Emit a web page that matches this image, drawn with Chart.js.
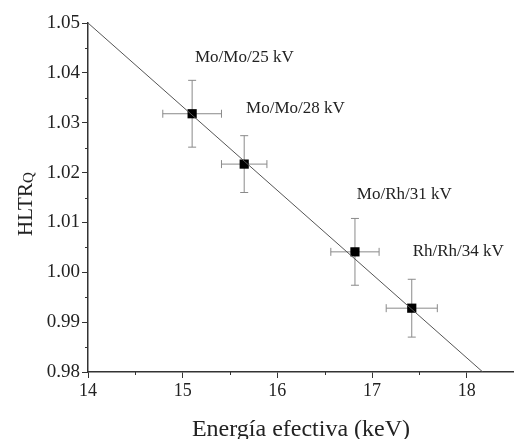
<!DOCTYPE html>
<html>
<head>
<meta charset="utf-8">
<script src="https://cdn.jsdelivr.net/npm/chart.js@4/dist/chart.umd.min.js"></script>
<style>
  html, body { margin: 0; padding: 0; background: #fff; }
  canvas { display: block; }
</style>
</head>
<body>
<canvas id="chart" width="514" height="439"></canvas>
<script>
// measured points
const energy = [15.10, 15.65, 16.82, 17.42];
const hltr = [1.0318, 1.0217, 1.0041, 0.9928];
const energyErr = [0.31, 0.24, 0.255, 0.27];
const hltrErr = [0.0067, 0.0057, 0.0067, 0.0058];
const labels = ['Mo/Mo/25 kV', 'Mo/Mo/28 kV', 'Mo/Rh/31 kV', 'Rh/Rh/34 kV'];
// where each label sits (data units, left edge / middle)
const labelX = [15.13, 15.67, 16.84, 17.43];
const labelY = [1.0430, 1.0328, 1.0155, 1.0041];

// linear fit, drawn between its two ends
const fitX = [14, 18.17];
const fitY = [1.05, 0.98];

const xTicks = [14, 15, 16, 17, 18];
const xMinor = [14.5, 15.5, 16.5, 17.5];
const yTicks = [0.98, 0.99, 1.00, 1.01, 1.02, 1.03, 1.04, 1.05];
const yMinor = [0.985, 0.995, 1.005, 1.015, 1.025, 1.035, 1.045];

const FONT = "'Liberation Serif', 'Times New Roman', serif";
const AXIS = '#333';

const extras = {
    id: 'extras',
    beforeDatasetsDraw(chart) {
        const ctx = chart.ctx;
        const xs = chart.scales.x, ys = chart.scales.y;
        const cap = 4;
        ctx.save();
        ctx.strokeStyle = '#8a8a8a';
        ctx.lineWidth = 1;
        energy.forEach((e, i) => {
            const px = xs.getPixelForValue(e);
            const py = ys.getPixelForValue(hltr[i]);
            const x0 = xs.getPixelForValue(e - energyErr[i]);
            const x1 = xs.getPixelForValue(e + energyErr[i]);
            const y0 = ys.getPixelForValue(hltr[i] + hltrErr[i]);
            const y1 = ys.getPixelForValue(hltr[i] - hltrErr[i]);
            ctx.beginPath();
            ctx.moveTo(x0, py); ctx.lineTo(x1, py);
            ctx.moveTo(x0, py - cap); ctx.lineTo(x0, py + cap);
            ctx.moveTo(x1, py - cap); ctx.lineTo(x1, py + cap);
            ctx.moveTo(px, y0); ctx.lineTo(px, y1);
            ctx.moveTo(px - cap, y0); ctx.lineTo(px + cap, y0);
            ctx.moveTo(px - cap, y1); ctx.lineTo(px + cap, y1);
            ctx.stroke();
        });
        ctx.restore();
    },
    afterDraw(chart) {
        const ctx = chart.ctx;
        const xs = chart.scales.x, ys = chart.scales.y;
        const area = chart.chartArea;
        ctx.save();

        // minor ticks
        ctx.strokeStyle = AXIS;
        ctx.lineWidth = 1;
        ctx.beginPath();
        xMinor.forEach(v => {
            const p = Math.round(xs.getPixelForValue(v)) + 0.5;
            ctx.moveTo(p, area.bottom); ctx.lineTo(p, area.bottom + 3);
        });
        yMinor.forEach(v => {
            const p = Math.round(ys.getPixelForValue(v)) + 0.5;
            ctx.moveTo(area.left, p); ctx.lineTo(area.left - 3, p);
        });
        ctx.stroke();

        // point labels
        ctx.fillStyle = '#222';
        ctx.font = '17px ' + FONT;
        ctx.textAlign = 'left';
        ctx.textBaseline = 'middle';
        labels.forEach((t, i) => {
            ctx.fillText(t, xs.getPixelForValue(labelX[i]), ys.getPixelForValue(labelY[i]));
        });

        // x title
        ctx.font = '24px ' + FONT;
        ctx.textAlign = 'center';
        ctx.textBaseline = 'middle';
        ctx.fillText('Energía efectiva (keV)', (area.left + area.right) / 2, 430);

        // y title with subscript
        ctx.translate(31.5, 236);
        ctx.rotate(-Math.PI / 2);
        ctx.textAlign = 'left';
        ctx.textBaseline = 'alphabetic';
        ctx.font = '21px ' + FONT;
        ctx.fillText('HLTR', 0, 0);
        const w = ctx.measureText('HLTR').width;
        ctx.font = '15px ' + FONT;
        ctx.fillText('Q', w, 1);
        ctx.restore();
    }
};

new Chart(document.getElementById('chart'), {
    type: 'scatter',
    data: {
        datasets: [
            {
                type: 'line',
                data: fitX.map((x, i) => ({ x: x, y: fitY[i] })),
                borderColor: '#555',
                borderWidth: 1,
                pointRadius: 0,
                fill: false
            },
            {
                data: energy.map((x, i) => ({ x: x, y: hltr[i] })),
                pointStyle: 'rect',
                pointRadius: 6.5,
                backgroundColor: '#000',
                borderColor: '#000',
                borderWidth: 0
            }
        ]
    },
    options: {
        responsive: false,
        animation: false,
        layout: { autoPadding: false, padding: { top: 23, left: 0, right: 0, bottom: 0 } },
        plugins: { legend: { display: false }, tooltip: { enabled: false } },
        scales: {
            x: {
                type: 'linear',
                min: 14,
                max: 18.5,
                afterBuildTicks: s => { s.ticks = xTicks.map(v => ({ value: v })); },
                afterFit: s => { s.height = 67; s.paddingLeft = 0; s.paddingRight = 0; },
                ticks: {
                    color: '#222',
                    font: { family: FONT, size: 18 },
                    padding: 2,
                    maxRotation: 0,
                    callback: v => String(v)
                },
                grid: { drawOnChartArea: false, tickLength: 6, tickColor: AXIS, tickWidth: 1 },
                border: { color: AXIS, width: 1.5 }
            },
            y: {
                type: 'linear',
                min: 0.98,
                max: 1.05,
                afterBuildTicks: s => { s.ticks = yTicks.map(v => ({ value: v })); },
                afterFit: s => { s.width = 88; s.paddingTop = 0; s.paddingBottom = 0; },
                ticks: {
                    color: '#222',
                    font: { family: FONT, size: 19 },
                    padding: 2,
                    callback: v => v.toFixed(2)
                },
                grid: { drawOnChartArea: false, tickLength: 6, tickColor: AXIS, tickWidth: 1 },
                border: { color: AXIS, width: 1.5 }
            }
        }
    },
    plugins: [extras]
});
</script>
</body>
</html>
